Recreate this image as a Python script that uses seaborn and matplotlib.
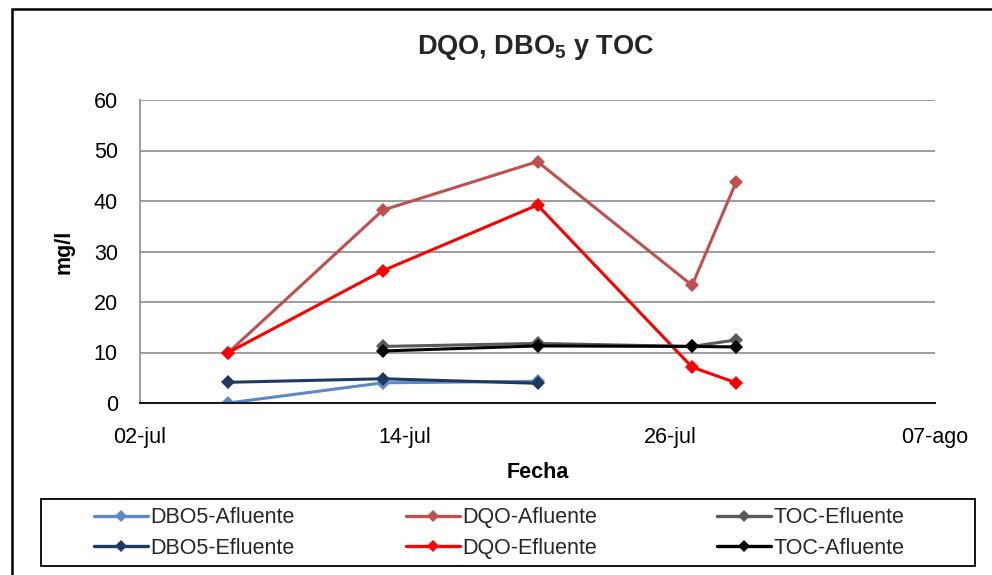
import matplotlib
matplotlib.use("Agg")
import matplotlib.pyplot as plt
from matplotlib.patches import Rectangle
from matplotlib.lines import Line2D
import seaborn as sns
import pandas as pd

# ---- data ----
dbo5_af_dates = ["2010-07-06", "2010-07-13", "2010-07-20"]
dbo5_af_vals = [0.0, 4.0, 4.3]
dbo5_ef_dates = ["2010-07-06", "2010-07-13", "2010-07-20"]
dbo5_ef_vals = [4.1, 4.8, 3.9]
dqo_af_dates = ["2010-07-06", "2010-07-13", "2010-07-20", "2010-07-27", "2010-07-29"]
dqo_af_vals = [10.0, 38.2, 47.8, 23.3, 43.8]
dqo_ef_dates = ["2010-07-06", "2010-07-13", "2010-07-20", "2010-07-27", "2010-07-29"]
dqo_ef_vals = [10.0, 26.2, 39.2, 7.1, 4.0]
toc_ef_dates = ["2010-07-13", "2010-07-20", "2010-07-27", "2010-07-29"]
toc_ef_vals = [11.2, 11.8, 11.2, 12.5]
toc_af_dates = ["2010-07-13", "2010-07-20", "2010-07-27", "2010-07-29"]
toc_af_vals = [10.3, 11.3, 11.2, 11.1]

tick_dates = ["2010-07-02", "2010-07-14", "2010-07-26", "2010-08-07"]
tick_labels = ["02-jul", "14-jul", "26-jul", "07-ago"]

series = [
    ("DBO5-Afluente", dbo5_af_dates, dbo5_af_vals, "#5B8AC6"),
    ("DBO5-Efluente", dbo5_ef_dates, dbo5_ef_vals, "#1F3A60"),
    ("DQO-Afluente", dqo_af_dates, dqo_af_vals, "#C0504D"),
    ("DQO-Efluente", dqo_ef_dates, dqo_ef_vals, "#FF0000"),
    ("TOC-Efluente", toc_ef_dates, toc_ef_vals, "#5A5A5A"),
    ("TOC-Afluente", toc_af_dates, toc_af_vals, "#000000"),
]

rows = []
for name, d, v, c in series:
    for di, vi in zip(d, v):
        rows.append({"Fecha": pd.Timestamp(di), "mg/l": vi, "Serie": name})
df = pd.DataFrame(rows)
order = [s[0] for s in series]
palette = {s[0]: s[3] for s in series}

sns.set_theme(style="white")
plt.rcParams["font.family"] = ["Liberation Sans", "DejaVu Sans"]
plt.rcParams["mathtext.fontset"] = "custom"
plt.rcParams["mathtext.rm"] = "Liberation Sans:bold"
plt.rcParams["mathtext.bf"] = "Liberation Sans:bold"

fig = plt.figure(figsize=(9.92, 5.75), dpi=100)
W, H = 992, 575
ax = fig.add_axes([140 / W, 1 - 403 / H, (935 - 140) / W, (403 - 100) / H])

sns.lineplot(data=df, x="Fecha", y="mg/l", hue="Serie", hue_order=order,
             palette=palette, marker="D", markersize=7, markeredgewidth=0,
             linewidth=2.2, ax=ax, legend=False, estimator=None, sort=False)

ax.set_xlim(pd.Timestamp(tick_dates[0]), pd.Timestamp(tick_dates[-1]))
ax.set_ylim(0, 60)
ax.set_yticks(range(0, 61, 10))
ax.set_xticks([pd.Timestamp(t) for t in tick_dates])
ax.set_xticklabels(tick_labels)
ax.tick_params(axis="both", labelsize=15.5, length=0, colors="black")
ax.tick_params(axis="y", pad=16)
ax.tick_params(axis="x", pad=17)
ax.grid(axis="y", color="#8C8C8C", linewidth=1.2)
ax.set_axisbelow(True)
for s in ["top", "right"]:
    ax.spines[s].set_visible(False)
ax.spines["left"].set_color("#8C8C8C")
ax.spines["left"].set_linewidth(1.2)
ax.spines["bottom"].set_color("#1A1A1A")
ax.spines["bottom"].set_linewidth(1.5)

ax.set_xlabel("Fecha", fontsize=15.5, fontweight="bold", labelpad=10, color="black")
ax.set_ylabel("mg/l", fontsize=15.5, fontweight="bold", labelpad=14, color="black")
fig.text(536 / W, 1 - 47 / H, r"DQO, DBO$_\mathrm{5}$ y TOC", ha="center", va="center",
         fontsize=19.5, fontweight="bold")

# legend: three columns, placed at the reference handle positions
col_x = [94, 406, 717]
fs = 15.5
px_per_em = fs * 100 / 72
for ci, x0 in enumerate(col_x):
    idx = [ci * 2, ci * 2 + 1]
    hs = [Line2D([0], [0], color=series[i][3], lw=2.4, marker="D", markersize=6,
                 markeredgewidth=0) for i in idx]
    fig.legend(hs, [series[i][0] for i in idx], loc="center left",
               bbox_to_anchor=(x0 / W, 1 - 533 / H), frameon=False,
               fontsize=fs, borderaxespad=0, borderpad=0,
               handlelength=54 / px_per_em, handletextpad=0.12,
               labelspacing=0.42)

fig.patches.append(Rectangle((41 / W, 1 - 566 / H), (975 - 41) / W, (566 - 499) / H,
                             transform=fig.transFigure, fill=False,
                             edgecolor="black", linewidth=1.3))
fig.patches.append(Rectangle((12 / W, -0.05), 1.0, 1 - 9 / H + 0.05, transform=fig.transFigure,
                             fill=False, edgecolor="black", linewidth=1.8))

fig.savefig("out.png", dpi=100)
